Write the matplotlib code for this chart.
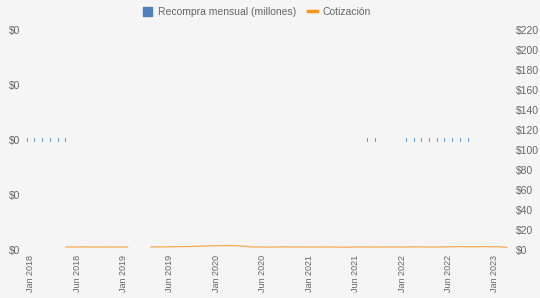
import numpy as np
import matplotlib
matplotlib.use("Agg")
import matplotlib.pyplot as plt
from matplotlib.patches import Patch
from matplotlib.lines import Line2D
from matplotlib.ticker import FuncFormatter, FixedLocator, MultipleLocator

plt.rcParams['font.family'] = ['Liberation Sans', 'DejaVu Sans']

# ---- data ----
n_cat = 63  # monthly categories
categories = list(range(n_cat))
tick_positions = [0, 6, 12, 18, 24, 30, 36, 42, 48, 54, 60]
tick_labels = ["Jan 2018", "Jun 2018", "Jan 2019", "Jun 2019", "Jan 2020", "Jun 2020",
               "Jan 2021", "Jun 2021", "Jan 2022", "Jun 2022", "Jan 2023"]

# monthly buyback (raw units, tiny -> all axis labels "$0")
buyback_idx = [0, 1, 2, 3, 4, 5, 44, 45, 49, 50, 51, 52, 53, 54, 55, 56, 57]
buyback_val = [0.036] * len(buyback_idx)

nan = np.nan
price = ([nan] * 5 +
         [3.0, 3.0, 3.1, 3.0, 3.0, 3.1, 3.0, 3.0, 3.0] +
         [nan, nan] +
         [3.0, 3.1, 3.2, 3.3, 3.4, 3.5, 3.7, 4.0, 4.2, 4.4, 4.5, 4.3, 3.8, 3.0] +
         [3.0, 2.9, 3.0, 3.1, 3.0, 2.9, 3.0, 3.0, 3.1, 3.0, 2.9, 2.8, 2.9, 3.0, 3.0,
          3.1, 3.0, 2.9, 3.0, 3.0, 3.1, 3.1, 3.0, 3.0, 3.1] +
         [3.3, 3.4, 3.3, 3.3, 3.4, 3.3, 3.2, 2.6])

bar_color = "#4f81bd"
line_color = "#f7941d"
bg = "#f5f5f5"
txt = "#666666"

W, H = 540, 298
fig = plt.figure(figsize=(W / 100, H / 100), dpi=100, facecolor=bg)
ax = fig.add_axes([24 / W, 1 - 250 / H, (510 - 24) / W, 220 / H])
ax.set_facecolor(bg)
ax2 = ax.twinx()

bv = np.array(buyback_val)
ax.bar(buyback_idx, bv, bottom=-bv / 2, width=0.13, color=bar_color,
       edgecolor='none', linewidth=0, alpha=0.8)
ax.set_ylim(-1, 1)
ax.yaxis.set_major_locator(MultipleLocator(0.5))
ax.yaxis.set_major_formatter(FuncFormatter(lambda v, _: "$%d" % int(v / 1e6)))
ax.set_xlim(-0.4, 62.4)

ax2.plot(categories, price, color=line_color, linewidth=0.9, alpha=0.75)
ax2.set_ylim(0, 220)
ax2.yaxis.set_major_locator(MultipleLocator(20))
ax2.yaxis.set_major_formatter(FuncFormatter(lambda v, _: "$%d" % v))

# labels sit slightly right of their category
ax.xaxis.set_major_locator(FixedLocator([p + 0.45 for p in tick_positions]))
ax.set_xticklabels(tick_labels, rotation=90, fontsize=6.5, color=txt)

for a in (ax, ax2):
    for s in a.spines.values():
        s.set_visible(False)
ax.tick_params(axis='x', length=0, pad=3.5)
ax.tick_params(axis='y', length=0, pad=3, labelsize=7.5, labelcolor=txt)
ax2.tick_params(axis='y', length=0, pad=4, labelsize=7.5, labelcolor=txt)

handles = [Patch(facecolor=bar_color, edgecolor=bar_color),
           Line2D([0], [0], color=line_color, linewidth=2.5)]
fig.legend(handles, ["Recompra mensual (millones)", "Cotización"],
           loc='center', bbox_to_anchor=(257 / W, 1 - 12 / H), ncol=2, frameon=False,
           fontsize=7.5, labelcolor=txt, handlelength=0.9, handleheight=0.9,
           handletextpad=0.55, columnspacing=1.1, borderpad=0)

fig.savefig("out.png", dpi=100, facecolor=bg)
